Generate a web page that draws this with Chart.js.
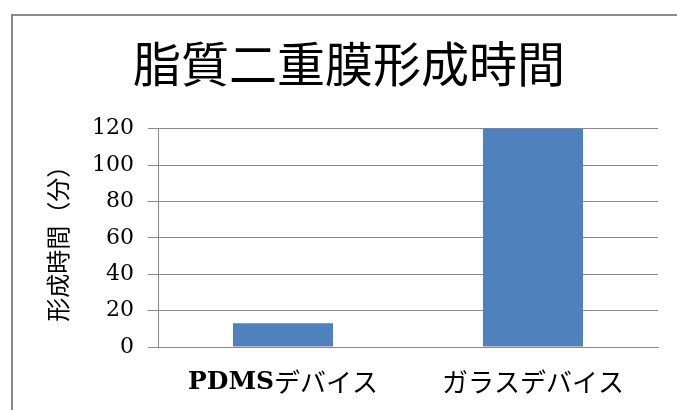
<!DOCTYPE html>
<html>
<head>
<meta charset="utf-8">
<script src="https://cdn.jsdelivr.net/npm/chart.js@4"></script>
<style>
    html, body { margin: 0; padding: 0; background: #fff; overflow: hidden; }
    #wrap { width: 677px; height: 410px; }
</style>
</head>
<body>
<div id="wrap"><canvas id="lipidChart"></canvas></div>
<script>
const categories = ['PDMSデバイス', 'ガラスデバイス'];
const formationMinutes = [13, 120];
const yTicks = [0, 20, 40, 60, 80, 100, 120];

const cjk = "'Noto Sans CJK JP', 'Noto Sans CJK SC', sans-serif";
const serif = "'DejaVu Serif', 'Liberation Serif', " + cjk;

// gray frame of the pasted Excel chart (only left and top edges are in view)
const framePlugin = {
    id: 'frame',
    beforeDraw(chart) {
        const ctx = chart.ctx;
        ctx.save();
        ctx.fillStyle = '#fff';
        ctx.fillRect(0, 0, chart.width, chart.height);
        ctx.strokeStyle = '#8a8a8a';
        ctx.lineWidth = 2;
        ctx.beginPath();
        ctx.moveTo(12, chart.height);
        ctx.lineTo(12, 15);
        ctx.lineTo(chart.width, 15);
        ctx.stroke();
        ctx.restore();
    }
};

// category labels: latin part bold serif, katakana regular
const catLabelPlugin = {
    id: 'catLabels',
    afterDraw(chart) {
        const scale = chart.scales.x;
        const ctx = chart.ctx;
        ctx.save();
        ctx.fillStyle = '#000';
        ctx.textBaseline = 'middle';
        ctx.textAlign = 'left';
        const y = scale.top + 35;
        const boldFont = 'bold 25px ' + serif;
        const kanaFont = '26px ' + cjk;
        scale.ticks.forEach((t, i) => {
            const label = categories[t.value];
            const m = label.match(/^[A-Za-z]*/)[0];
            const rest = label.slice(m.length);
            ctx.font = boldFont;
            const w1 = ctx.measureText(m).width;
            ctx.font = kanaFont;
            const w2 = ctx.measureText(rest).width;
            const x = scale.getPixelForTick(i) - (w1 + w2) / 2;
            ctx.font = boldFont;
            ctx.fillText(m, x, y);
            ctx.font = kanaFont;
            ctx.fillText(rest, x + w1, y);
        });
        ctx.restore();
    }
};

new Chart(document.getElementById('lipidChart'), {
    type: 'bar',
    data: {
        labels: categories,
        datasets: [{
            data: formationMinutes,
            backgroundColor: '#4f81bd',
            borderWidth: 0,
            barPercentage: 0.4,
            categoryPercentage: 1.0
        }]
    },
    plugins: [framePlugin, catLabelPlugin],
    options: {
        responsive: true,
        maintainAspectRatio: false,
        animation: false,
        layout: { padding: { left: 40, right: 19, top: 0, bottom: 0 } },
        plugins: {
            legend: { display: false },
            tooltip: { enabled: false },
            title: {
                display: true,
                text: '脂質二重膜形成時間',
                color: '#000',
                font: { family: cjk, size: 48, weight: 'normal', lineHeight: 1.2 },
                padding: { top: 35, bottom: 36 }
            }
        },
        scales: {
            x: {
                grid: { display: false },
                border: { display: true, color: '#8a8a8a', width: 1 },
                ticks: { color: 'transparent', font: { family: serif, size: 24 } },
                afterFit(scale) { scale.height = 63; }
            },
            y: {
                min: 0,
                max: 120,
                afterBuildTicks(scale) { scale.ticks = yTicks.map(v => ({ value: v })); },
                grid: { color: '#8a8a8a', lineWidth: 1, tickLength: 10 },
                border: { display: true, color: '#8a8a8a', width: 1 },
                ticks: { color: '#000', padding: 14, font: { family: serif, size: 22 } },
                title: {
                    display: true,
                    text: '形成時間（分）',
                    color: '#000',
                    padding: { top: 3, bottom: 0 },
                    font: { family: cjk, size: 24 }
                },
                afterFit(scale) { scale.width = 118; }
            }
        }
    }
});
</script>
</body>
</html>
